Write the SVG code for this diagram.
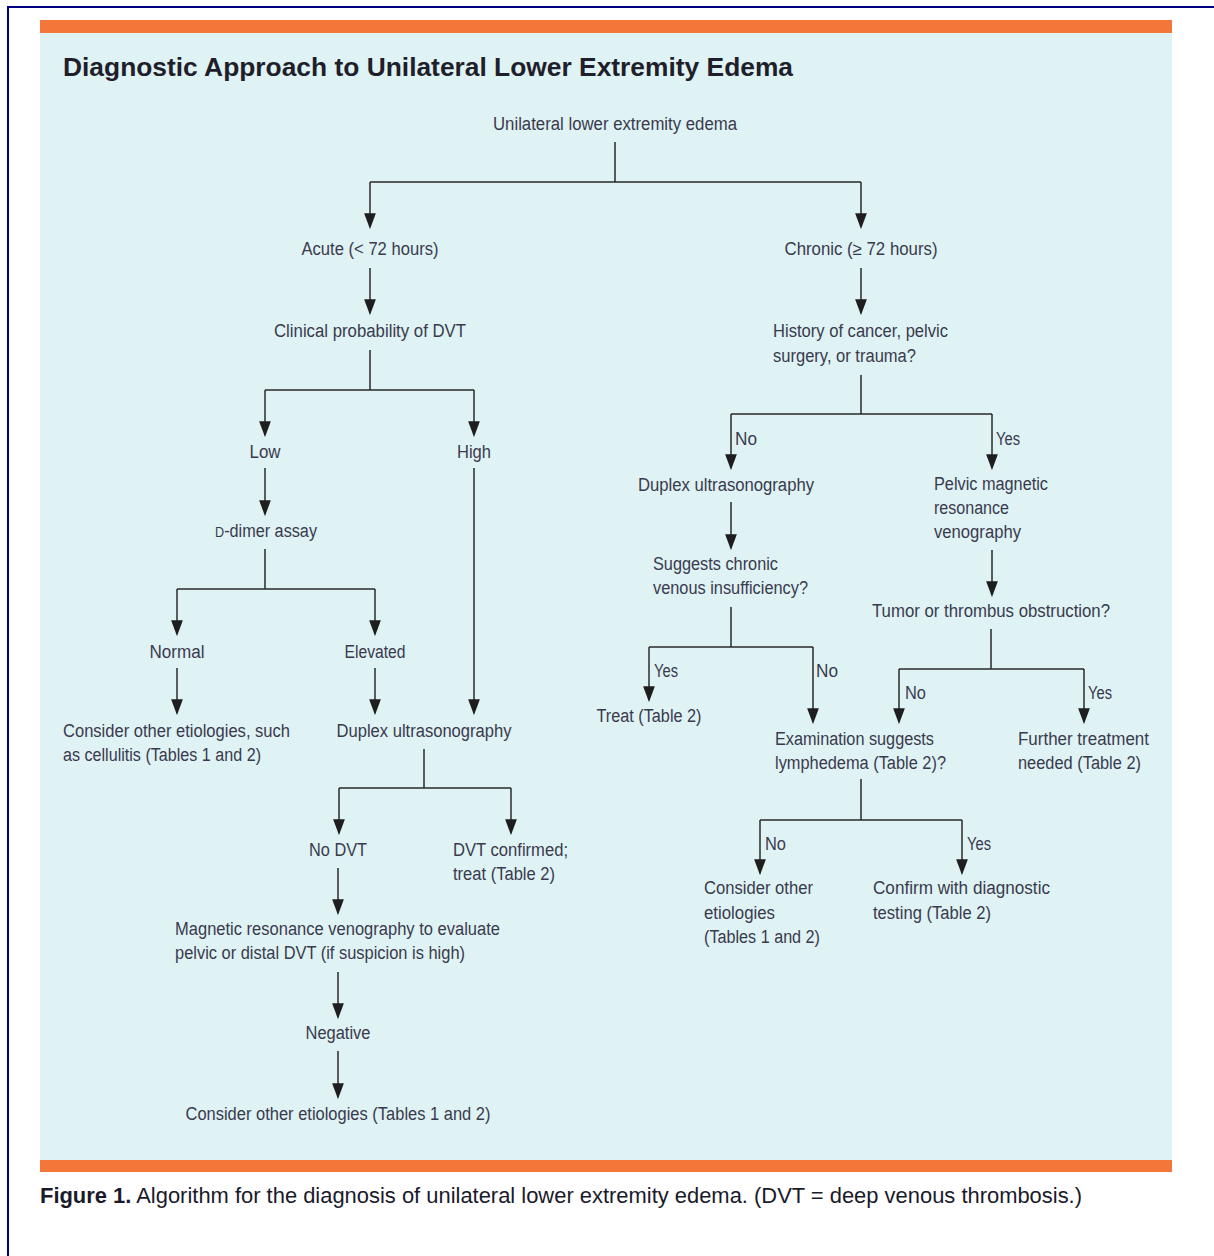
<svg xmlns="http://www.w3.org/2000/svg" width="1214" height="1256" viewBox="0 0 1214 1256">
<style>
.t{font-family:"Liberation Sans",Arial,sans-serif;font-size:18px;fill:#3a3a4e}
.c{text-anchor:middle}
.ln{fill:none;stroke:#2a2a2a;stroke-width:1.5}
.ar{fill:none;stroke:#2a2a2a;stroke-width:1.5;marker-end:url(#ah)}
</style>
<defs>
<marker id="ah" markerUnits="userSpaceOnUse" markerWidth="16" markerHeight="12" viewBox="0 0 15 11" refX="13" refY="5.5" orient="auto">
<path d="M0,0 L15,5.5 L0,11 z" fill="#1e1e1e"/>
</marker>
</defs>
<rect width="1214" height="1256" fill="#ffffff"/>
<path d="M8,1256 V7 H1214" fill="none" stroke="#000080" stroke-width="2"/>
<rect x="40" y="33" width="1132" height="1127" fill="#dff2f4"/>
<rect x="40" y="20" width="1132" height="13" fill="#f47739"/>
<rect x="40" y="1160" width="1132" height="12" fill="#f47739"/>
<text x="63" y="76" font-family="'Liberation Sans',Arial,sans-serif" font-size="26" font-weight="bold" fill="#1f1f2b" textLength="730" lengthAdjust="spacingAndGlyphs">Diagnostic Approach to Unilateral Lower Extremity Edema</text>
<text x="40" y="1203" font-family="'Liberation Sans',Arial,sans-serif" font-size="22" fill="#1a1a2a" textLength="1042" lengthAdjust="spacingAndGlyphs"><tspan font-weight="bold">Figure 1.</tspan> Algorithm for the diagnosis of unilateral lower extremity edema. (DVT = deep venous thrombosis.)</text>

<g id="connectors">
<path class="ln" d="M615,142 V182 M370,182 H861"/>
<path class="ar" d="M370,182 V227"/>
<path class="ar" d="M861,182 V227"/>
<path class="ar" d="M370,268 V313"/>
<path class="ar" d="M861,268 V313"/>
<path class="ln" d="M370,350 V390 M265,390 H474"/>
<path class="ar" d="M265,390 V435"/>
<path class="ar" d="M474,390 V435"/>
<path class="ar" d="M265,468 V514"/>
<path class="ar" d="M474,468 V713"/>
<path class="ln" d="M265,549 V589 M177,589 H375"/>
<path class="ar" d="M177,589 V634"/>
<path class="ar" d="M375,589 V634"/>
<path class="ar" d="M177,668 V713"/>
<path class="ar" d="M375,668 V713"/>
<path class="ln" d="M424,749 V788 M339,788 H511"/>
<path class="ar" d="M339,788 V833"/>
<path class="ar" d="M511,788 V833"/>
<path class="ar" d="M338,868 V913"/>
<path class="ar" d="M338,972 V1017"/>
<path class="ar" d="M338,1051 V1097"/>
<path class="ln" d="M861,375 V414 M731,414 H992"/>
<path class="ar" d="M731,414 V468"/>
<path class="ar" d="M992,414 V468"/>
<path class="ar" d="M731,502 V548"/>
<path class="ar" d="M992,550 V595"/>
<path class="ln" d="M731,607 V647 M649,647 H813"/>
<path class="ar" d="M649,647 V700"/>
<path class="ar" d="M813,647 V722"/>
<path class="ln" d="M991,629 V669 M899,669 H1084"/>
<path class="ar" d="M899,669 V722"/>
<path class="ar" d="M1084,669 V722"/>
<path class="ln" d="M861,779 V820 M760,820 H962"/>
<path class="ar" d="M760,820 V873"/>
<path class="ar" d="M962,820 V873"/>
</g>

<g id="n-start"><text class="t c" x="615" y="130" textLength="244" lengthAdjust="spacingAndGlyphs">Unilateral lower extremity edema</text></g>
<g id="n-acute"><text class="t c" x="370" y="255" textLength="137" lengthAdjust="spacingAndGlyphs">Acute (&lt; 72 hours)</text></g>
<g id="n-chronic"><text class="t c" x="861" y="255" textLength="153" lengthAdjust="spacingAndGlyphs">Chronic (≥ 72 hours)</text></g>
<g id="n-clinical"><text class="t c" x="370" y="337" textLength="192" lengthAdjust="spacingAndGlyphs">Clinical probability of DVT</text></g>
<g id="n-history">
<text class="t" x="773" y="337" textLength="175" lengthAdjust="spacingAndGlyphs">History of cancer, pelvic</text>
<text class="t" x="773" y="362" textLength="143" lengthAdjust="spacingAndGlyphs">surgery, or trauma?</text>
</g>
<g id="n-low"><text class="t c" x="265" y="458" textLength="31" lengthAdjust="spacingAndGlyphs">Low</text></g>
<g id="n-high"><text class="t c" x="474" y="458" textLength="34" lengthAdjust="spacingAndGlyphs">High</text></g>
<g id="n-ddimer"><text class="t c" x="266" y="537" textLength="102" lengthAdjust="spacingAndGlyphs"><tspan font-size="14">D</tspan>-dimer assay</text></g>
<g id="n-normal"><text class="t c" x="177" y="658" textLength="55" lengthAdjust="spacingAndGlyphs">Normal</text></g>
<g id="n-elevated"><text class="t c" x="375" y="658" textLength="61" lengthAdjust="spacingAndGlyphs">Elevated</text></g>
<g id="n-cellulitis">
<text class="t" x="63" y="737" textLength="227" lengthAdjust="spacingAndGlyphs">Consider other etiologies, such</text>
<text class="t" x="63" y="761" textLength="198" lengthAdjust="spacingAndGlyphs">as cellulitis (Tables 1 and 2)</text>
</g>
<g id="n-duplex1"><text class="t c" x="424" y="737" textLength="175" lengthAdjust="spacingAndGlyphs">Duplex ultrasonography</text></g>
<g id="n-nodvt"><text class="t c" x="338" y="856" textLength="58" lengthAdjust="spacingAndGlyphs">No DVT</text></g>
<g id="n-dvtconf">
<text class="t" x="453" y="856" textLength="115" lengthAdjust="spacingAndGlyphs">DVT confirmed;</text>
<text class="t" x="453" y="880" textLength="102" lengthAdjust="spacingAndGlyphs">treat (Table 2)</text>
</g>
<g id="n-mrv">
<text class="t" x="175" y="935" textLength="325" lengthAdjust="spacingAndGlyphs">Magnetic resonance venography to evaluate</text>
<text class="t" x="175" y="959" textLength="290" lengthAdjust="spacingAndGlyphs">pelvic or distal DVT (if suspicion is high)</text>
</g>
<g id="n-negative"><text class="t c" x="338" y="1039" textLength="65" lengthAdjust="spacingAndGlyphs">Negative</text></g>
<g id="n-other1"><text class="t c" x="338" y="1120" textLength="305" lengthAdjust="spacingAndGlyphs">Consider other etiologies (Tables 1 and 2)</text></g>

<g id="labels">
<text class="t" x="735" y="445" textLength="22" lengthAdjust="spacingAndGlyphs">No</text>
<text class="t" x="996" y="445" textLength="24" lengthAdjust="spacingAndGlyphs">Yes</text>
<text class="t" x="654" y="677" textLength="24" lengthAdjust="spacingAndGlyphs">Yes</text>
<text class="t" x="816" y="677" textLength="22" lengthAdjust="spacingAndGlyphs">No</text>
<text class="t" x="905" y="699" textLength="21" lengthAdjust="spacingAndGlyphs">No</text>
<text class="t" x="1088" y="699" textLength="24" lengthAdjust="spacingAndGlyphs">Yes</text>
<text class="t" x="765" y="850" textLength="21" lengthAdjust="spacingAndGlyphs">No</text>
<text class="t" x="967" y="850" textLength="24" lengthAdjust="spacingAndGlyphs">Yes</text>
</g>
<g id="n-duplex2"><text class="t c" x="726" y="491" textLength="176" lengthAdjust="spacingAndGlyphs">Duplex ultrasonography</text></g>
<g id="n-pelvicmrv">
<text class="t" x="934" y="490" textLength="114" lengthAdjust="spacingAndGlyphs">Pelvic magnetic</text>
<text class="t" x="934" y="514" textLength="75" lengthAdjust="spacingAndGlyphs">resonance</text>
<text class="t" x="934" y="538" textLength="87" lengthAdjust="spacingAndGlyphs">venography</text>
</g>
<g id="n-cvi">
<text class="t" x="653" y="570" textLength="125" lengthAdjust="spacingAndGlyphs">Suggests chronic</text>
<text class="t" x="653" y="594" textLength="155" lengthAdjust="spacingAndGlyphs">venous insufficiency?</text>
</g>
<g id="n-tumor"><text class="t c" x="991" y="617" textLength="238" lengthAdjust="spacingAndGlyphs">Tumor or thrombus obstruction?</text></g>
<g id="n-treat"><text class="t c" x="649" y="722" textLength="105" lengthAdjust="spacingAndGlyphs">Treat (Table 2)</text></g>
<g id="n-lymph">
<text class="t" x="775" y="745" textLength="159" lengthAdjust="spacingAndGlyphs">Examination suggests</text>
<text class="t" x="775" y="769" textLength="171" lengthAdjust="spacingAndGlyphs">lymphedema (Table 2)?</text>
</g>
<g id="n-further">
<text class="t" x="1018" y="745" textLength="131" lengthAdjust="spacingAndGlyphs">Further treatment</text>
<text class="t" x="1018" y="769" textLength="123" lengthAdjust="spacingAndGlyphs">needed (Table 2)</text>
</g>
<g id="n-other2">
<text class="t" x="704" y="894" textLength="109" lengthAdjust="spacingAndGlyphs">Consider other</text>
<text class="t" x="704" y="919" textLength="71" lengthAdjust="spacingAndGlyphs">etiologies</text>
<text class="t" x="704" y="943" textLength="116" lengthAdjust="spacingAndGlyphs">(Tables 1 and 2)</text>
</g>
<g id="n-confirm">
<text class="t" x="873" y="894" textLength="177" lengthAdjust="spacingAndGlyphs">Confirm with diagnostic</text>
<text class="t" x="873" y="919" textLength="118" lengthAdjust="spacingAndGlyphs">testing (Table 2)</text>
</g>
</svg>
